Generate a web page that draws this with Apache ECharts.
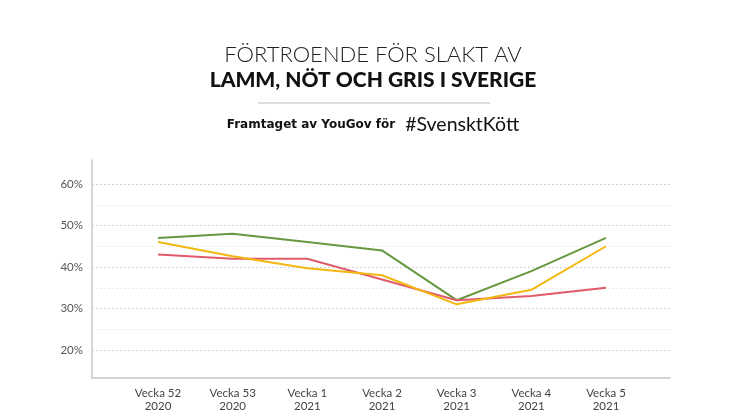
<!DOCTYPE html>
<html><head><meta charset="utf-8">
<script src="https://cdn.jsdelivr.net/npm/echarts@6/dist/echarts.min.js"></script>
<style>html,body{margin:0;padding:0;background:#fff}#c{width:746px;height:419px}</style>
</head><body><div id="c"></div>
<script>
const categories = ['Vecka 52\n2020','Vecka 53\n2020','Vecka 1\n2021','Vecka 2\n2021','Vecka 3\n2021','Vecka 4\n2021','Vecka 5\n2021'];
const greenValues = [47, 48, 46, 44, 32, 39, 47];
const yellowValues = [46, 42.6, 39.7, 38, 31, 34.5, 45];
const redValues = [43, 42, 42, 37, 32, 33, 35];
const yMin = 20, yMax = 60, yStep = 5;

const chart = echarts.init(document.getElementById('c'), null, {renderer:'canvas'});
const font = 'Lato, "Noto Sans", sans-serif';
chart.setOption({
  backgroundColor:'#fff',
  animation:false,
  title:[
    {text:'FÖRTROENDE FÖR SLAKT AV', left:'center', top:39, textStyle:{fontFamily:font, fontWeight:300, fontSize:22, color:'#222'}},
    {text:'LAMM, NÖT OCH GRIS I SVERIGE', left:'center', top:65, textStyle:{fontFamily:font, fontWeight:900, fontSize:21, color:'#111'}},
    {text:'{a|Framtaget av YouGov för}  {b|#SvensktKött}', left:'center', top:110,
     textStyle:{rich:{a:{fontFamily:'"DejaVu Sans", sans-serif', fontWeight:'bold', fontSize:12, color:'#111'}, b:{fontFamily:font, fontWeight:400, fontSize:19.5, color:'#111'}}}}
  ],
  graphic:[{type:'line', shape:{x1:258, y1:103, x2:490, y2:103}, style:{stroke:'#bdbdbd', lineWidth:1}}],
  grid:[
    {left:92, right:76, top:184, bottom:69},
    {left:92, right:76, top:160, bottom:41},
    {left:158, right:140, top:184, bottom:69}
  ],
  xAxis:[
    {gridIndex:0, type:'value', show:false},
    {gridIndex:1, type:'value', min:0, max:1, axisLine:{show:true, onZero:false, lineStyle:{color:'#c8c8c8', width:1.5}}, axisTick:{show:false}, axisLabel:{show:false}, splitLine:{show:false}},
    {gridIndex:2, type:'category', data:categories, boundaryGap:false, axisLine:{show:false}, axisTick:{show:false},
     axisLabel:{margin:37, fontFamily:font, fontSize:11.5, color:'#444', lineHeight:13}}
  ],
  yAxis:[
    {gridIndex:0, type:'value', min:yMin, max:yMax, interval:yStep, axisLine:{show:false}, axisTick:{show:false},
     axisLabel:{margin:9, fontFamily:font, fontSize:11.5, color:'#555', formatter:v => (v % 10 === 0 ? v + '%' : '')},
     splitLine:{show:true, lineStyle:{color:['#d2d2d2','#ececec'], type:[2,2], width:1}}},
    {gridIndex:1, type:'value', min:0, max:1, axisLine:{show:true, onZero:false, lineStyle:{color:'#c8c8c8', width:1.5}}, axisTick:{show:false}, axisLabel:{show:false}, splitLine:{show:false}},
    {gridIndex:2, type:'value', min:yMin, max:yMax, show:false, splitLine:{show:false}}
  ],
  series:[
    {type:'line', xAxisIndex:2, yAxisIndex:2, data:greenValues, symbol:'none', lineStyle:{color:'#67983f', width:2}},
    {type:'line', xAxisIndex:2, yAxisIndex:2, data:redValues, symbol:'none', lineStyle:{color:'#e25b6b', width:2}},
    {type:'line', xAxisIndex:2, yAxisIndex:2, data:yellowValues, symbol:'none', lineStyle:{color:'#f4b70f', width:2}}
  ]
});
</script></body></html>
